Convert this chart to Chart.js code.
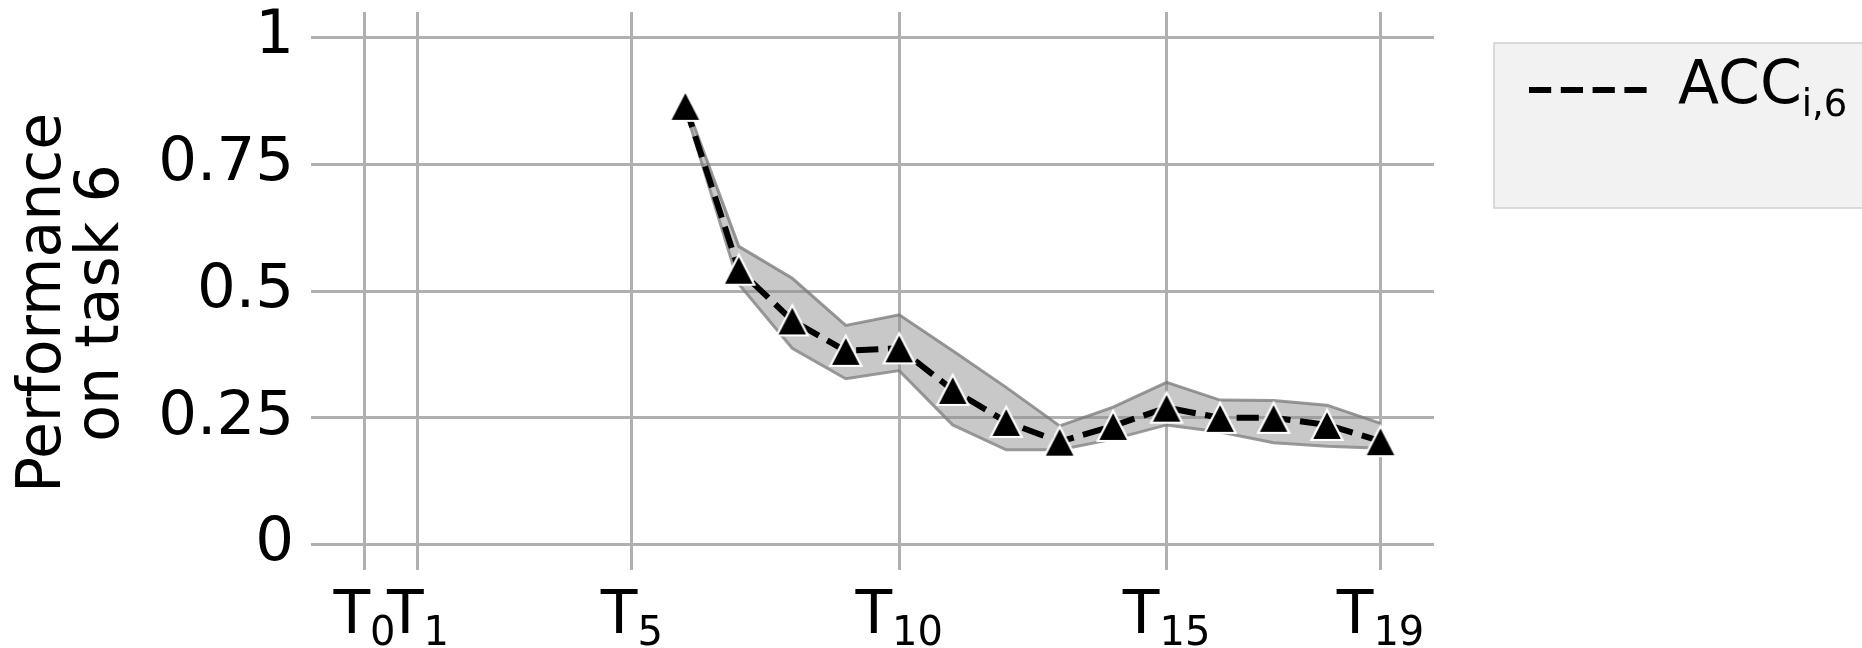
<!DOCTYPE html>
<html>
<head>
<meta charset="utf-8">
<script src="https://cdn.jsdelivr.net/npm/chart.js@4.4.1/dist/chart.umd.min.js"></script>
<style>
  html, body { margin: 0; padding: 0; background: #fff; }
  canvas { display: block; }
</style>
</head>
<body>
<canvas id="c" width="1862" height="648"></canvas>
<script>
// task index after each training step, mean accuracy on task 6 and its spread
const steps = [6, 7, 8, 9, 10, 11, 12, 13, 14, 15, 16, 17, 18, 19];
const accMean = [0.865, 0.542, 0.442, 0.382, 0.387, 0.305, 0.242, 0.203, 0.234, 0.270, 0.250, 0.250, 0.236, 0.204];
const accUpper = [0.872, 0.588, 0.525, 0.432, 0.453, 0.382, 0.310, 0.234, 0.271, 0.320, 0.285, 0.284, 0.275, 0.239];
const accLower = [0.858, 0.514, 0.387, 0.327, 0.343, 0.236, 0.187, 0.187, 0.208, 0.236, 0.222, 0.201, 0.194, 0.190];

const xTicks = [0, 1, 5, 10, 15, 19];
const yTicks = [0, 0.25, 0.5, 0.75, 1];
const yTitle = ['Performance', 'on task 6'];
const legendSub = 'i,6';

const FONT = '"DejaVu Sans", Verdana, sans-serif';
const GRID = '#b0b0b0';
const DASH = [22.2, 9.6];
Chart.defaults.font.family = FONT;

const pts = ys => steps.map((s, i) => ({ x: s, y: ys[i] }));

// matplotlib-style "^" marker: black with a white edge
function triangleMarker() {
  const c = document.createElement('canvas');
  c.width = 40; c.height = 40;
  const g = c.getContext('2d');
  g.beginPath();
  g.moveTo(20, 5);
  g.lineTo(4.5, 35);
  g.lineTo(35.5, 35);
  g.closePath();
  g.fillStyle = '#000';
  g.fill();
  g.lineWidth = 2.2;
  g.strokeStyle = '#fff';
  g.stroke();
  return c;
}

// T with subscript index under each x tick
const xLabels = {
  id: 'xLabels',
  afterDraw(chart) {
    const { ctx } = chart;
    const x = chart.scales.x;
    ctx.save();
    ctx.fillStyle = '#000';
    ctx.textBaseline = 'alphabetic';
    xTicks.forEach(v => {
      const px = x.getPixelForValue(v);
      ctx.font = '60px ' + FONT;
      const wT = ctx.measureText('T').width;
      ctx.font = '40px ' + FONT;
      const wS = ctx.measureText(String(v)).width;
      const left = px - (wT + wS) / 2;
      ctx.font = '60px ' + FONT;
      ctx.fillText('T', left, 633);
      ctx.font = '40px ' + FONT;
      ctx.fillText(String(v), left + wT, 645);
    });
    ctx.restore();
  }
};

// two-line rotated y title
const yTitlePlugin = {
  id: 'yTitle',
  afterDraw(chart) {
    const { ctx } = chart;
    ctx.save();
    ctx.fillStyle = '#000';
    ctx.font = '60px ' + FONT;
    ctx.textAlign = 'center';
    ctx.textBaseline = 'alphabetic';
    const baselines = [60, 118];
    yTitle.forEach((t, i) => {
      ctx.save();
      ctx.translate(baselines[i], 303);
      ctx.rotate(-Math.PI / 2);
      ctx.fillText(t, 0, 0);
      ctx.restore();
    });
    ctx.restore();
  }
};

// legend box on the right
const legendBox = {
  id: 'legendBox',
  afterDraw(chart) {
    const { ctx } = chart;
    ctx.save();
    ctx.fillStyle = '#f2f2f2';
    ctx.fillRect(1494, 43, 400, 165);
    ctx.strokeStyle = '#d0d0d0';
    ctx.lineWidth = 1.5;
    ctx.strokeRect(1494, 43, 400, 165);

    ctx.beginPath();
    ctx.setLineDash(DASH);
    ctx.lineWidth = 6;
    ctx.strokeStyle = '#000';
    ctx.moveTo(1529, 90);
    ctx.lineTo(1647, 90);
    ctx.stroke();
    ctx.setLineDash([]);

    ctx.fillStyle = '#000';
    ctx.textBaseline = 'alphabetic';
    ctx.font = '60px ' + FONT;
    ctx.fillText('ACC', 1678, 103);
    const w = ctx.measureText('ACC').width;
    ctx.font = '37px ' + FONT;
    ctx.fillText(legendSub, 1678 + w, 116);
    ctx.restore();
  }
};

// keep the plot area fixed: no extra room for half tick labels
function noEdgePadding(s) {
  s.paddingTop = 0;
  s.paddingBottom = 0;
  s.paddingLeft = 0;
  s.paddingRight = 0;
}

new Chart(document.getElementById('c'), {
  type: 'line',
  data: {
    datasets: [
      {
        label: 'ACC',
        data: pts(accMean),
        borderColor: '#000',
        borderWidth: 6,
        borderDash: DASH,
        pointStyle: triangleMarker(),
        pointRadius: 16,
        tension: 0,
        fill: false
      },
      {
        label: 'upper',
        data: pts(accUpper),
        borderColor: 'rgba(120,120,120,0.75)',
        borderWidth: 3,
        backgroundColor: 'rgba(140,140,140,0.48)',
        pointRadius: 0,
        tension: 0,
        fill: '+1'
      },
      {
        label: 'lower',
        data: pts(accLower),
        borderColor: 'rgba(120,120,120,0.75)',
        borderWidth: 3,
        pointRadius: 0,
        tension: 0,
        fill: false
      }
    ]
  },
  options: {
    responsive: false,
    animation: false,
    devicePixelRatio: 1,
    layout: { autoPadding: false, padding: { top: 12, right: 428, bottom: 0, left: 0 } },
    plugins: { legend: { display: false }, tooltip: { enabled: false } },
    scales: {
      x: {
        type: 'linear',
        min: -1,
        max: 20,
        afterBuildTicks: s => { s.ticks = xTicks.map(v => ({ value: v })); },
        afterFit: s => { s.height = 78; noEdgePadding(s); },
        ticks: { display: false },
        grid: { color: GRID, lineWidth: 3, drawTicks: false },
        border: { display: false }
      },
      y: {
        min: -0.05,
        max: 1.05,
        afterBuildTicks: s => { s.ticks = yTicks.map(v => ({ value: v })); },
        afterFit: s => { s.width = 311; noEdgePadding(s); },
        ticks: {
          color: '#000',
          padding: 17,
          font: { size: 61, family: FONT },
          callback: v => String(v)
        },
        grid: { color: GRID, lineWidth: 3, drawTicks: false },
        border: { display: false }
      }
    }
  },
  plugins: [xLabels, yTitlePlugin, legendBox]
});
</script>
</body>
</html>
